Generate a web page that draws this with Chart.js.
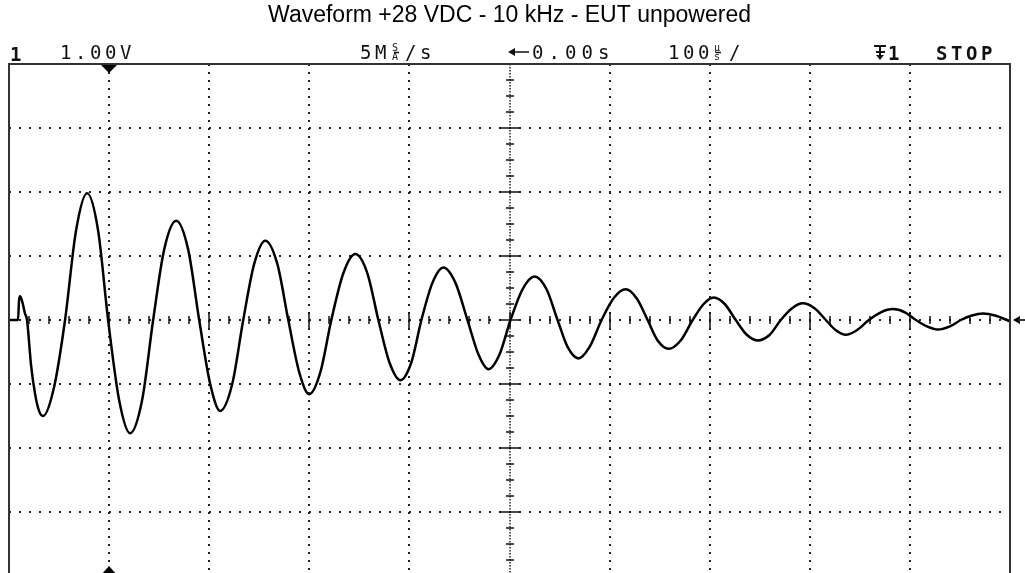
<!DOCTYPE html>
<html>
<head>
<meta charset="utf-8">
<title>Waveform +28 VDC - 10 kHz - EUT unpowered</title>
<script src="https://cdn.jsdelivr.net/npm/chart.js@4/dist/chart.umd.min.js"></script>
<style>
html, body { margin: 0; padding: 0; overflow: hidden; background: #fff; }
#wrap { position: absolute; left: 0; top: 0; width: 1025px; height: 590px; }
</style>
</head>
<body>
<div id="wrap"><canvas id="scope"></canvas></div>
<script>
// trace: time in microseconds, level in volts
var timeUs = [
    -500, -491, -490, -489, -487, -484, -482, -478, -474, -470, -466,
    -455, -444, -433, -422, -411, -401, -390, -379, -367, -356,
    -345, -333, -321, -310, -299, -289, -277, -266,
    -255, -244, -232, -221, -210, -200, -189, -178,
    -166, -154, -142, -131, -120, -109, -98, -88,
    -77, -66, -54, -42, -31, -21, -10, 1,
    13, 25, 37, 48, 58, 69, 80, 92,
    104, 116, 127, 138, 148, 159, 171, 183,
    194, 204, 215, 226, 237, 248, 260, 271,
    282, 293, 305, 316, 326, 336, 347, 359,
    371, 383, 395, 406, 417, 428, 440, 451,
    462, 473, 485, 500
];
var volts = [
    0, 0, 0.3, 0.37, 0.3, 0.1, 0, -0.7, -1.15, -1.42, -1.5,
    -1.05, 0, 1.4, 1.98, 1.4, 0, -1.25, -1.77, -1.25, 0,
    1.1, 1.55, 1.1, 0, -1.0, -1.42, -1.0, 0,
    0.88, 1.24, 0.88, 0, -0.82, -1.16, -0.82, 0,
    0.73, 1.03, 0.73, 0, -0.66, -0.94, -0.66, 0,
    0.58, 0.82, 0.58, 0, -0.54, -0.77, -0.54, 0,
    0.48, 0.68, 0.48, 0, -0.42, -0.6, -0.42, 0,
    0.34, 0.48, 0.34, 0, -0.32, -0.45, -0.32, 0,
    0.25, 0.35, 0.25, 0, -0.23, -0.32, -0.23, 0,
    0.18, 0.26, 0.18, 0, -0.16, -0.23, -0.16, 0,
    0.12, 0.17, 0.12, 0, -0.1, -0.15, -0.1, 0,
    0.07, 0.1, 0.07, -0.02
];

var timeRange = [-500, 500];   // 10 div x 100 us
var voltRange = [-4, 4];       // 8 div x 1.00 V
var titleText = 'Waveform +28 VDC - 10 kHz - EUT unpowered';
var chanLabel = '1';
var voltLabel = '1.00V';
var stopLabel = 'STOP';

var points = [];
for (var i = 0; i < timeUs.length; i++) {
    points.push({x: timeUs[i], y: volts[i]});
}

var monoFont = '"DejaVu Sans Mono", "Liberation Mono", monospace';

function drawMono(ctx, str, x, y, pitch) {
    for (var i = 0; i < str.length; i++) {
        ctx.fillText(str[i], x + i * pitch, y);
    }
}

var scopePlugin = {
    id: 'scope',
    beforeDatasetsDraw: function(chart) {
        var ctx = chart.ctx, a = chart.chartArea;
        var xs = chart.scales.x, ys = chart.scales.y;
        var cx = Math.round(xs.getPixelForValue(0)), cy = Math.round(ys.getPixelForValue(0));
        ctx.save();
        ctx.strokeStyle = '#222';
        // centre lines
        ctx.lineWidth = 2;
        ctx.setLineDash([2, 8]);
        ctx.beginPath(); ctx.moveTo(a.left, cy); ctx.lineTo(a.right, cy); ctx.stroke();
        ctx.lineWidth = 1.5;
        ctx.setLineDash([1.5, 1.5]);
        ctx.beginPath(); ctx.moveTo(cx, a.top); ctx.lineTo(cx, a.bottom); ctx.stroke();
        ctx.setLineDash([]);
        ctx.strokeStyle = '#111';
        ctx.lineWidth = 1.5;
        ctx.beginPath();
        for (var t = timeRange[0] + 20; t < timeRange[1]; t += 20) {
            var px = Math.round(xs.getPixelForValue(t));
            var h = (t % 100 === 0) ? 8 : 4;
            ctx.moveTo(px, cy - h); ctx.lineTo(px, cy + h);
        }
        for (var k = voltRange[0] * 4 + 1; k < voltRange[1] * 4; k++) {
            var py = Math.round(ys.getPixelForValue(k / 4));
            var w = (k % 4 === 0) ? 10 : 4;
            ctx.moveTo(cx - w, py); ctx.lineTo(cx + w, py);
        }
        ctx.stroke();
        ctx.restore();
    },
    afterDraw: function(chart) {
        var ctx = chart.ctx, a = chart.chartArea;
        var xs = chart.scales.x, ys = chart.scales.y;
        var cy = ys.getPixelForValue(0);
        ctx.save();
        // frame
        ctx.strokeStyle = '#333';
        ctx.lineWidth = 2;
        ctx.strokeRect(a.left, a.top, a.right - a.left, a.bottom - a.top);
        // memory position markers
        var mx = Math.round(xs.getPixelForValue(-400));
        ctx.fillStyle = '#000';
        ctx.beginPath();
        ctx.moveTo(mx - 8, a.top + 1); ctx.lineTo(mx + 8, a.top + 1); ctx.lineTo(mx, a.top + 9);
        ctx.closePath(); ctx.fill();
        ctx.beginPath();
        ctx.moveTo(mx - 8, a.top + 511); ctx.lineTo(mx + 8, a.top + 511); ctx.lineTo(mx, a.top + 502);
        ctx.closePath(); ctx.fill();
        // trigger level marker
        ctx.beginPath();
        ctx.moveTo(a.right + 3, cy); ctx.lineTo(a.right + 10, cy - 4); ctx.lineTo(a.right + 10, cy + 4);
        ctx.closePath(); ctx.fill();
        ctx.lineWidth = 2;
        ctx.beginPath(); ctx.moveTo(a.right + 8, cy); ctx.lineTo(a.right + 16, cy); ctx.stroke();

        // status line
        var base = 59;
        ctx.fillStyle = '#111';
        ctx.textBaseline = 'alphabetic';
        ctx.textAlign = 'left';
        ctx.font = 'bold 19px ' + monoFont;
        drawMono(ctx, chanLabel, 10, base + 2, 15);
        drawMono(ctx, stopLabel, 936, base + 1, 15);
        drawMono(ctx, '1', 888, base + 1, 15);
        ctx.font = '19px ' + monoFont;
        drawMono(ctx, voltLabel, 60, base, 15);
        drawMono(ctx, '5M', 360, base, 15);
        drawMono(ctx, '/s', 405, base, 15);
        drawMono(ctx, '0.00s', 532, base, 16.5);
        drawMono(ctx, '100', 668, base, 15);
        drawMono(ctx, '/', 729, base, 15);
        ctx.font = '10px ' + monoFont;
        ctx.fillText('S', 392, base - 8);
        ctx.fillText('A', 392, base + 1);
        ctx.fillText('\u00b5', 714, base - 8);
        ctx.fillText('s', 714, base + 1);
        ctx.strokeStyle = '#111';
        ctx.lineWidth = 1.5;
        ctx.beginPath();
        ctx.moveTo(394, base - 6.5); ctx.lineTo(399, base - 6.5);
        ctx.moveTo(716, base - 6.5); ctx.lineTo(721, base - 6.5);
        // time reference arrow
        ctx.moveTo(511, base - 7); ctx.lineTo(529, base - 7);
        ctx.stroke();
        ctx.beginPath();
        ctx.moveTo(508, base - 7); ctx.lineTo(515, base - 11); ctx.lineTo(515, base - 3);
        ctx.closePath(); ctx.fill();
        // trigger source symbol
        ctx.lineWidth = 2;
        ctx.beginPath();
        ctx.moveTo(874, base - 13); ctx.lineTo(886, base - 13);
        ctx.moveTo(880, base - 13); ctx.lineTo(880, base);
        ctx.moveTo(876, base - 7); ctx.lineTo(885, base - 7);
        ctx.stroke();
        ctx.beginPath();
        ctx.moveTo(876, base - 4); ctx.lineTo(884, base - 4); ctx.lineTo(880, base + 1);
        ctx.closePath(); ctx.fill();
        ctx.restore();
    }
};

function gridColor(ctx) {
    var v = ctx.tick ? ctx.tick.value : null;
    var s = ctx.scale;
    if (v === 0 || v === s.min || v === s.max) return 'rgba(0,0,0,0)';
    return '#222';
}

var config = {
    type: 'line',
    data: {
        datasets: [{
            label: 'CH1',
            data: points,
            borderColor: '#000',
            borderWidth: 2.5,
            pointRadius: 0,
            fill: false,
            cubicInterpolationMode: 'monotone'
        }]
    },
    options: {
        responsive: true,
        maintainAspectRatio: false,
        animation: false,
        layout: { padding: { left: 9, right: 15, top: 0, bottom: 14 } },
        plugins: {
            legend: { display: false },
            tooltip: { enabled: false },
            title: {
                display: true,
                text: titleText,
                color: '#000',
                font: { family: '"Liberation Sans", Arial, sans-serif', size: 23, weight: 'normal', lineHeight: 1.2 },
                padding: { top: 2, bottom: 34.4 }
            }
        },
        scales: {
            x: {
                type: 'linear',
                min: timeRange[0],
                max: timeRange[1],
                ticks: { display: false, stepSize: 100 },
                grid: { color: gridColor, lineWidth: 2, drawTicks: false },
                border: { display: false, dash: [2, 6] }
            },
            y: {
                min: voltRange[0],
                max: voltRange[1],
                ticks: { display: false, stepSize: 1 },
                grid: { color: gridColor, lineWidth: 2, drawTicks: false },
                border: { display: false, dash: [2, 8] }
            }
        }
    },
    plugins: [scopePlugin]
};

window.onload = function() {
    var ctx = document.getElementById('scope').getContext('2d');
    window.scopeChart = new Chart(ctx, config);
};
</script>
</body>
</html>
